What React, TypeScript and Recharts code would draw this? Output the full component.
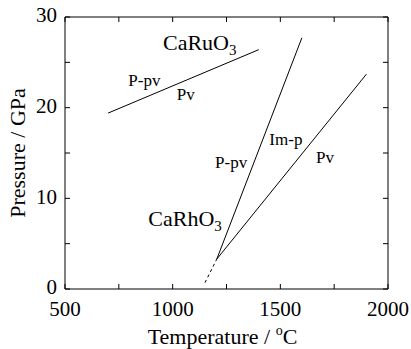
import React from "react";
import {
  Line,
  LineChart,
  ReferenceDot,
  XAxis,
  YAxis,
  Label,
} from "recharts";

const xTicks = [500, 750, 1000, 1250, 1500, 1750, 2000];
const yTicks = [0, 5, 10, 15, 20, 25, 30];
const xLabeled = [500, 1000, 1500, 2000];
const yLabeled = [0, 10, 20, 30];

// phase boundaries (temperature °C, pressure GPa)
const caRuBoundary = [
  { x: 700, y: 19.4 },
  { x: 1400, y: 26.4 },
];
const rhPpvImp = [
  { x: 1205, y: 3.3 },
  { x: 1600, y: 27.7 },
];
const rhImpPv = [
  { x: 1205, y: 3.3 },
  { x: 1900, y: 23.7 },
];
const rhDashed = [
  { x: 1150, y: 0.7 },
  { x: 1205, y: 3.3 },
];

// text annotations: left edge x, baseline y, in data units
const compoundLabels = [
  { x: 955, y: 26.36, main: "CaRuO", sub: "3" },
  { x: 887, y: 6.95, main: "CaRhO", sub: "3" },
];
const phaseLabels = [
  { x: 794, y: 22.4, text: "P-pv" },
  { x: 1019, y: 20.9, text: "Pv" },
  { x: 1449, y: 15.9, text: "Im-p" },
  { x: 1197, y: 13.4, text: "P-pv" },
  { x: 1666, y: 13.9, text: "Pv" },
];

const FONT = "Liberation Serif";
const tickStyle = { fill: "#000", fontSize: 21, fontFamily: FONT };
const blank = () => "";

export default function App() {
  return (
    <div style={{ position: "absolute", left: 0, top: 0, background: "#fff", width: 411, height: 349 }}>
      <LineChart
        width={411}
        height={349}
        margin={{ top: 16, right: 22, left: 0, bottom: 0 }}
        style={{ fontFamily: FONT, overflow: "visible" }}
      >
        <XAxis
          type="number"
          dataKey="x"
          domain={[500, 2000]}
          ticks={xTicks}
          interval={0}
          height={60}
          tickSize={-5}
          tickMargin={17}
          stroke="#000"
          tick={tickStyle}
          tickFormatter={(v: number) => (xLabeled.includes(v) ? String(v) : "")}
          allowDataOverflow
        >
          <Label
            content={({ viewBox }: any) => (
              <text
                x={viewBox.x + viewBox.width / 2 - 4}
                y={344}
                textAnchor="middle"
                fontSize={22}
                style={{ fontFamily: FONT }}
                fill="#000"
              >
                Temperature / <tspan fontSize={14} dy={-9}>o</tspan>
                <tspan dy={9}>C</tspan>
              </text>
            )}
          />
        </XAxis>
        <XAxis
          xAxisId="top"
          orientation="top"
          type="number"
          dataKey="x"
          domain={[500, 2000]}
          ticks={xTicks}
          interval={0}
          height={1}
          tickSize={-5}
          stroke="#000"
          tickFormatter={blank}
          allowDataOverflow
        />
        <YAxis
          type="number"
          domain={[0, 30]}
          ticks={yTicks}
          interval={0}
          width={65}
          tickSize={-5}
          tickMargin={13}
          stroke="#000"
          tick={{ ...tickStyle, dy: -2 }}
          tickFormatter={(v: number) => (yLabeled.includes(v) ? String(v) : "")}
          allowDataOverflow
        >
          <Label
            content={({ viewBox }: any) => {
              const cy = viewBox.y + viewBox.height / 2;
              return (
                <text
                  x={25}
                  y={cy}
                  transform={`rotate(-90, 25, ${cy})`}
                  textAnchor="middle"
                  fontSize={22}
                  style={{ fontFamily: FONT }}
                  fill="#000"
                >
                  Pressure / GPa
                </text>
              );
            }}
          />
        </YAxis>
        <YAxis
          yAxisId="right"
          orientation="right"
          type="number"
          domain={[0, 30]}
          ticks={yTicks}
          interval={0}
          width={1}
          tickSize={-5}
          stroke="#000"
          tickFormatter={blank}
          allowDataOverflow
        />
        {/* CaRuO3 boundary drawn on the top/right axes (same domains) so the frame axes render */}
        <Line
          data={caRuBoundary}
          dataKey="y"
          xAxisId="top"
          yAxisId="right"
          stroke="#000"
          strokeWidth={1}
          dot={false}
          isAnimationActive={false}
        />
        <Line
          data={rhPpvImp}
          dataKey="y"
          stroke="#000"
          strokeWidth={1}
          dot={false}
          isAnimationActive={false}
        />
        <Line
          data={rhImpPv}
          dataKey="y"
          stroke="#000"
          strokeWidth={1}
          dot={false}
          isAnimationActive={false}
        />
        <Line
          data={rhDashed}
          dataKey="y"
          stroke="#000"
          strokeWidth={1}
          strokeDasharray="3 3"
          dot={false}
          isAnimationActive={false}
        />
        {compoundLabels.map((l, i) => (
          <ReferenceDot
            key={`c${i}`}
            x={l.x}
            y={l.y}
            r={0}
            shape={(p: any) => (
              <text x={p.cx} y={p.cy} fontSize={22} style={{ fontFamily: FONT }} fill="#000">
                {l.main}
                <tspan fontSize={15} dy={5}>{l.sub}</tspan>
              </text>
            )}
          />
        ))}
        {phaseLabels.map((l, i) => (
          <ReferenceDot
            key={`p${i}`}
            x={l.x}
            y={l.y}
            r={0}
            shape={(p: any) => (
              <text x={p.cx} y={p.cy} fontSize={17} style={{ fontFamily: FONT }} fill="#000">
                {l.text}
              </text>
            )}
          />
        ))}
      </LineChart>
    </div>
  );
}
